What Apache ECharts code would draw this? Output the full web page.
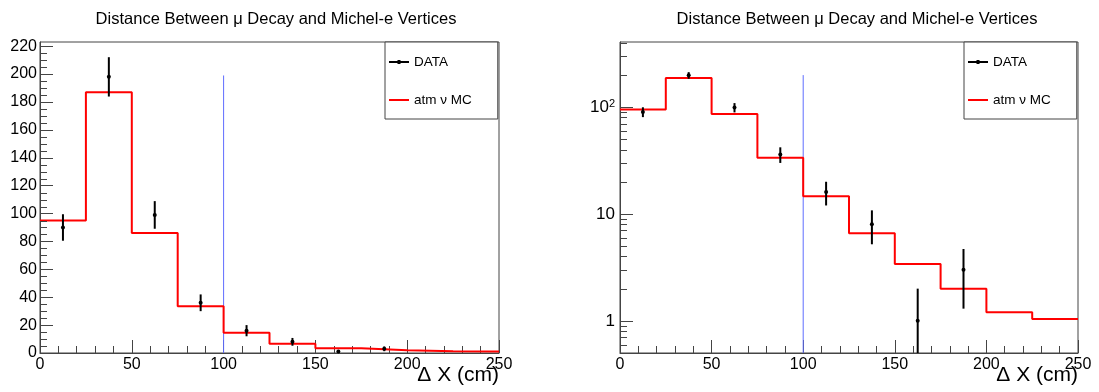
<!DOCTYPE html>
<html>
<head>
<meta charset="utf-8">
<title>Distance Between μ Decay and Michel-e Vertices</title>
<script src="https://cdn.jsdelivr.net/npm/echarts@6/dist/echarts.min.js"></script>
<style>
  html, body { margin: 0; padding: 0; background: #fff; }
  #chart { width: 1099px; height: 392px; }
</style>
</head>
<body>
<div id="chart"></div>
<script>
// Histogram binning: 10 bins of 25 cm from 0 to 250 cm
const binEdges = [0, 25, 50, 75, 100, 125, 150, 175, 200, 225, 250];

// Atmospheric-neutrino Monte Carlo expectation per bin
const mcCounts = [95, 187, 86, 33.6, 14.6, 6.6, 3.4, 2.0, 1.2, 1.04];

// Observed events per bin and their statistical errors
const dataCounts = [90, 198, 99, 36, 16, 8, 1, 3, 0, 0];
const dataErrors = [9.5, 14.1, 9.9, 6.0, 4.0, 2.8, 1.0, 1.7, 0, 0];

// Selection cut on the vertex distance
const cutX = 100;
const cutTop = 199;

// Axis ranges and tick labels
const xTicks = [0, 50, 100, 150, 200, 250];
const linYMax = 223;
const linYTicks = [0, 20, 40, 60, 80, 100, 120, 140, 160, 180, 200, 220];
const logYMin = 0.5;
const logYMax = 406;
const logYTicks = [1, 10, 100];
const logYTickLabels = ['1', '10', '{m|10}{s|2}'];

const titleText = 'Distance Between μ Decay and Michel-e Vertices';
const xTitle = 'Δ X (cm)';
const dataName = 'DATA';
const mcName = 'atm ν MC';

const FONT = '"Liberation Sans", Arial, Helvetica, sans-serif';
const FRAME = '#444';
const CUT_COLOR = '#5f6dff';

// Minor tick positions
const linMinor = [];
for (let v = 0; v <= 220; v += 5) if (v % 20 !== 0) linMinor.push(v);
const logMinor = [0.6, 0.7, 0.8, 0.9];
for (let d = 1; d <= 100; d *= 10) for (let k = 2; k <= 9; k++) if (k * d < logYMax) logMinor.push(k * d);

const centers = dataCounts.map((_, i) => (binEdges[i] + binEdges[i + 1]) / 2);
const pointData = dataCounts.map((n, i) => [centers[i], n, dataErrors[i]]);
const mcData = binEdges.map((e, i) => [e, mcCounts[Math.min(i, mcCounts.length - 1)]]);

function makePointRenderer(floor) {
  return function (params, api) {
    const n = api.value(1);
    if (!(n > 0)) return null;
    const x = api.value(0);
    const err = api.value(2);
    const top = api.coord([x, n + err]);
    const bot = api.coord([x, Math.max(n - err, floor)]);
    const c = api.coord([x, n]);
    return {
      type: 'group',
      children: [
        { type: 'line', shape: { x1: top[0], y1: top[1], x2: bot[0], y2: bot[1] },
          style: { stroke: '#000', lineWidth: 2 } },
        { type: 'circle', shape: { cx: c[0], cy: c[1], r: 2 }, style: { fill: '#000' } }
      ]
    };
  };
}

// Pad frames (pixel layout of the two canvases)
const pads = [
  { left: 40, top: 42, width: 459, height: 311, titleX: 271 },
  { left: 620, top: 42, width: 458, height: 311, titleX: 852 }
];

const grids = pads.map(p => ({
  left: p.left, top: p.top, width: p.width, height: p.height,
  show: true, borderColor: FRAME, borderWidth: 1, backgroundColor: 'transparent',
  outerBoundsMode: 'none', containLabel: false
}));

function xAxisFor(gridIndex) {
  return {
    type: 'value', gridIndex, min: 0, max: 250, interval: 50,
    axisLine: { show: true, lineStyle: { color: FRAME, width: 1 } },
    axisTick: { show: true, inside: true, length: 13, lineStyle: { color: FRAME } },
    minorTick: { show: true, splitNumber: 5, length: 7, lineStyle: { color: FRAME } },
    axisLabel: { margin: 4, fontFamily: FONT, fontSize: 16, color: '#000' },
    splitLine: { show: false }, minorSplitLine: { show: false }
  };
}

const legendCommon = {
  orient: 'vertical', top: 42,
  data: [
    { name: dataName, icon: 'path://M0,3.5H20V5.5H0Z M8.5,2.5H11.5V6.5H8.5Z' },
    { name: mcName, icon: 'path://M0,3.5H20V5.5H0Z' }
  ],
  itemWidth: 20, itemHeight: 14, itemGap: 24,
  padding: [13, 26, 12, 4],
  borderColor: FRAME, borderWidth: 1, borderRadius: 0,
  backgroundColor: '#fff',
  selectedMode: false,
  textStyle: { fontFamily: FONT, fontSize: 13.5, color: '#000' }
};

const axisTitles = pads.map(p => ({
  type: 'text', right: 1099 - (p.left + p.width), top: 365,
  style: { text: xTitle, fontFamily: FONT, fontSize: 21, fill: '#000', textAlign: 'right' }
}));

const option = {
  animation: false,
  backgroundColor: '#fff',
  title: pads.map(p => ({
    text: titleText, left: p.titleX, top: 6, textAlign: 'center',
    textStyle: { fontFamily: FONT, fontSize: 16.5, fontWeight: 'normal', color: '#000' }
  })),
  legend: pads.map(p => Object.assign({ left: p.left + p.width - 114 }, legendCommon)),
  grid: grids,
  xAxis: [xAxisFor(0), xAxisFor(1)],
  yAxis: [
    { type: 'value', gridIndex: 0, min: 0, max: linYMax,
      axisLine: { show: true, lineStyle: { color: FRAME } },
      axisTick: { show: true, inside: true, length: 13, customValues: linYTicks, lineStyle: { color: FRAME } },
      axisLabel: { customValues: linYTicks, margin: 3, fontFamily: FONT, fontSize: 16, color: '#000' },
      splitLine: { show: false } },
    { type: 'log', logBase: 10, gridIndex: 1, min: logYMin, max: logYMax,
      axisLine: { show: true, lineStyle: { color: FRAME } },
      axisTick: { show: true, inside: true, length: 13, customValues: logYTicks, lineStyle: { color: FRAME } },
      axisLabel: {
        customValues: logYTicks, margin: 5, fontFamily: FONT, fontSize: 17, color: '#000',
        formatter: v => logYTickLabels[logYTicks.indexOf(Math.round(v))] || String(v),
        rich: {
          m: { fontFamily: FONT, fontSize: 17, color: '#000' },
          s: { fontFamily: FONT, fontSize: 11, color: '#000', padding: [0, 0, 7, 0] }
        }
      },
      splitLine: { show: false } }
  ],
  graphic: axisTitles,
  series: [
    // left pad: linear scale
    { name: 'cut', type: 'line', xAxisIndex: 0, yAxisIndex: 0, symbol: 'none', silent: true,
      data: [[cutX, 0], [cutX, cutTop]], lineStyle: { color: CUT_COLOR, width: 1 }, z: 1 },
    { name: mcName, type: 'line', xAxisIndex: 0, yAxisIndex: 0, step: 'end', symbol: 'none',
      data: mcData, color: '#ff0000', lineStyle: { color: '#ff0000', width: 2 }, z: 2 },
    { name: dataName, type: 'custom', xAxisIndex: 0, yAxisIndex: 0, color: '#000',
      renderItem: makePointRenderer(0), encode: { x: 0, y: 1 }, data: pointData, z: 3 },
    // right pad: logarithmic scale
    { name: 'cut', type: 'line', xAxisIndex: 1, yAxisIndex: 1, symbol: 'none', silent: true,
      data: [[cutX, logYMin], [cutX, cutTop]], lineStyle: { color: CUT_COLOR, width: 1 }, z: 1 },
    { name: mcName, type: 'line', xAxisIndex: 1, yAxisIndex: 1, step: 'end', symbol: 'none',
      data: mcData, color: '#ff0000', lineStyle: { color: '#ff0000', width: 2 }, z: 2 },
    { name: dataName, type: 'custom', xAxisIndex: 1, yAxisIndex: 1, color: '#000',
      renderItem: makePointRenderer(logYMin), encode: { x: 0, y: 1 }, data: pointData, z: 3 }
  ]
};

const chart = echarts.init(document.getElementById('chart'), null, { renderer: 'canvas' });
chart.setOption(option);

// Short minor ticks on the y axes, placed through each grid's own scales
function yPixel(gridIndex, v) {
  let p = null;
  try { p = chart.convertToPixel({ gridIndex: gridIndex }, [0, v]); } catch (e) { p = null; }
  if (Array.isArray(p)) return p[1];
  try { p = chart.convertToPixel({ xAxisIndex: gridIndex, yAxisIndex: gridIndex }, [0, v]); } catch (e) { p = null; }
  if (Array.isArray(p)) return p[1];
  return NaN;
}

const minorTickMarks = [];
[[0, linMinor], [1, logMinor]].forEach(([gridIndex, values]) => {
  const x0 = pads[gridIndex].left;
  values.forEach(v => {
    const py = yPixel(gridIndex, v);
    if (!isFinite(py)) return;
    const y = Math.round(py) + 0.5;
    minorTickMarks.push({
      type: 'line', silent: true, z: 50,
      shape: { x1: x0, y1: y, x2: x0 + 7, y2: y },
      style: { stroke: FRAME, lineWidth: 1 }
    });
  });
});
chart.setOption({ graphic: axisTitles.concat(minorTickMarks) });
</script>
</body>
</html>
